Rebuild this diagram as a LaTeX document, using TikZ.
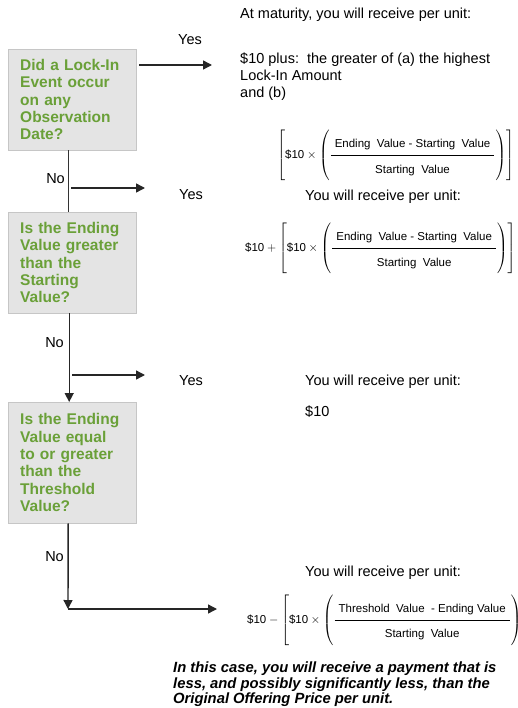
\documentclass[tikz,border=0pt]{standalone}
\usepackage{amsmath}
\usepackage{fontspec}
\setmainfont{Liberation Sans}
\usetikzlibrary{arrows.meta}
\usetikzlibrary{positioning}

\definecolor{qgreen}{RGB}{106,160,56}
\definecolor{boxfill}{RGB}{228,228,228}
\definecolor{boxline}{RGB}{198,198,198}

\newcommand{\payoff}[1]{\left[\mbox{\$10}\times\left(\vcenter{\hbox{\rule{0pt}{48pt}}}\dfrac{\mbox{\rule[-6pt]{0pt}{14pt}\hspace{4pt}#1\hspace{4pt}}}{\mbox{\rule{0pt}{16pt}Starting~ Value}}\right)\right]}

\begin{document}
\begin{tikzpicture}[x=1pt, y=-1pt,
  question/.style={draw=boxline, fill=boxfill, text=qgreen, align=left,
    font=\bfseries\fontsize{15.5}{17.3}\selectfont,
    text width=104pt, inner xsep=12pt, minimum height=101pt, anchor=north west},
  txt/.style={font=\fontsize{14.5}{17}\selectfont, inner sep=0pt},
  formula/.style={font=\fontsize{11.5}{13}\selectfont, inner sep=0pt, anchor=west},
  flow/.style={line width=1.4pt, black!85, -{Triangle[length=9pt,width=9pt]}},
  trunk/.style={line width=1.4pt, black!80}]
\useasboundingbox (0,0) rectangle (517,708);

% questions
\node[question] (lockin) at (8,49) {Did a Lock-In\\Event occur\\on any\\Observation\\Date?};
\node[question] (gain) at (8,212) {Is the Ending\\Value greater\\than the\\Starting\\Value?};
\node[question, minimum height=121pt] (thresh) at (8,402) {Is the Ending\\Value equal\\to or greater\\than the\\Threshold\\Value?};

% connectors
\coordinate (yesA) at (212,65);
\draw[flow] ([xshift=3pt,yshift=-16pt]lockin.north east) -- (yesA);
\draw[trunk] ([xshift=-4pt]lockin.south) -- ([xshift=-4pt]gain.north);
\coordinate (forkA) at (71,188);
\coordinate (yesB) at (145,188);
\draw[flow] (forkA) -- (yesB);
\draw[flow] ([xshift=-3pt]gain.south) -- ([xshift=-3pt]thresh.north);
\coordinate (forkB) at (72,375);
\coordinate (yesC) at (145,375);
\draw[flow] (forkB) -- (yesC);
\coordinate (corner) at (68,609);
\coordinate (noEnd) at (217,609);
\draw[flow] ([xshift=-4pt]thresh.south) -- (corner);
\draw[flow] (corner) -- (noEnd);

% branch labels
\node[txt] (yesLblA) at (190,40) {Yes};
\node[txt] (yesLblB) at (191,195) {Yes};
\node[txt] (yesLblC) at (191,381) {Yes};
\node[txt, anchor=east] (noLblA) at (65,179) {No};
\node[txt, anchor=east] (noLblB) at (64,343) {No};
\node[txt, anchor=east] (noLblC) at (64,557) {No};

% outcomes
\node[txt, anchor=west] (maturity) at (240,15) {At maturity, you will receive per unit:};
\node[txt, anchor=west, align=left] (lockplus) at (240,77) {\$10 plus:\ \ the greater of (a) the highest\\Lock-In Amount\\and (b)};
\node[formula] (payA) at (277,155.5) {$\payoff{Ending~ Value - Starting~ Value}$};
\node[txt, anchor=west] (recvB) at (305,197) {You will receive per unit:};
\node[formula] (payB) at (245,248.5) {$\mbox{\$10}+\payoff{Ending~ Value - Starting~ Value}$};
\node[txt, anchor=west] (recvC) at (305,382) {You will receive per unit:};
\node[txt, anchor=west] (tenC) at (305,412) {\$10};
\node[txt, anchor=west] (recvD) at (305,573) {You will receive per unit:};
\node[formula] (payD) at (247,620) {$\mbox{\$10}-\payoff{Threshold~ Value~ - Ending Value}$};
\node[txt, anchor=west, align=left, font=\bfseries\itshape\fontsize{14.8}{15.5}\selectfont] (warning) at (173,684.5)
  {In this case, you will receive a payment that is\\less, and possibly significantly less, than the\\Original Offering Price per unit.};
\end{tikzpicture}
\end{document}
